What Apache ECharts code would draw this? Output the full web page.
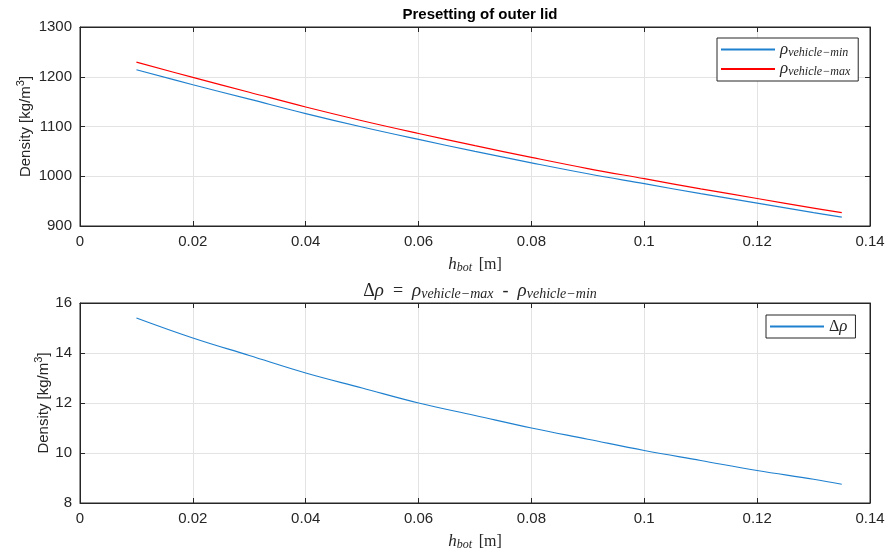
<!DOCTYPE html>
<html>
<head>
<meta charset="utf-8">
<script src="https://cdn.jsdelivr.net/npm/echarts@6/dist/echarts.min.js"></script>
<style>
  html, body { margin: 0; padding: 0; background: #fff; }
  #chart { width: 890px; height: 556px; }
</style>
</head>
<body>
<div id="chart"></div>
<script>
// values
const hBot = [0.01, 0.02, 0.03, 0.04, 0.05, 0.06, 0.07, 0.08, 0.09, 0.10, 0.11, 0.12, 0.13, 0.135]
const rhoMin = [1214, 1184, 1155, 1126, 1099, 1074, 1050, 1027, 1005, 985, 965, 946, 927, 918]
const rhoMax = [1229.4, 1198.6, 1168.9, 1139.2, 1111.6, 1086, 1061.5, 1038, 1015.5, 995.1, 974.7, 955.3, 936, 926.7]
const deltaRho = [15.4, 14.6, 13.9, 13.2, 12.6, 12.0, 11.5, 11.0, 10.55, 10.1, 9.7, 9.3, 8.95, 8.75]
const xTicks = { min: 0, max: 0.14, interval: 0.02 }
const yTopTicks = { min: 900, max: 1300, interval: 100 }
const yBotTicks = { min: 8, max: 16, interval: 2 }

const pairs = ys => hBot.map((x, i) => [x, ys[i]])

const axisColor = '#262626'
const gridColor = '#e3e3e3'
const blue = '#1f80cf'
const red = '#FF0000'
const serif = 'Liberation Serif'

const mathRich = {
    r: { fontFamily: serif, fontStyle: 'italic', fontWeight: 'normal', fontSize: 17, color: axisColor },
    u: { fontFamily: serif, fontWeight: 'normal', fontSize: 16, color: axisColor },
    s: { fontFamily: serif, fontStyle: 'italic', fontWeight: 'normal', fontSize: 12, color: axisColor, padding: [6, 0, 0, 0] },
    n: { fontFamily: 'Liberation Sans', fontSize: 15, color: axisColor },
    sup: { fontFamily: 'Liberation Sans', fontSize: 11, color: axisColor, padding: [0, 0, 10, 0] }
}
const titleRich = {
    r: { fontFamily: serif, fontStyle: 'italic', fontWeight: 'normal', fontSize: 19, color: axisColor },
    u: { fontFamily: serif, fontWeight: 'normal', fontSize: 18, color: axisColor },
    s: { fontFamily: serif, fontStyle: 'italic', fontWeight: 'normal', fontSize: 14, color: axisColor, padding: [6, 0, 0, 0] }
}

const xLabel = v => v === 0 ? '0' : String(+v.toFixed(2))

const makeX = (gridIndex) => ([
    {
        type: 'value', gridIndex, ...xTicks,
        name: '{r|h}{s|bot}  {u|[m]}',
        nameLocation: 'middle', nameGap: 30,
        nameTextStyle: { rich: mathRich },
        axisLine: { lineStyle: { color: axisColor } },
        axisTick: { inside: true, length: 5, lineStyle: { color: axisColor } },
        axisLabel: { color: axisColor, fontFamily: 'Liberation Sans', fontSize: 15, margin: 8, formatter: xLabel },
        splitLine: { show: true, lineStyle: { color: gridColor } }
    },
    {
        type: 'value', gridIndex, position: 'top', ...xTicks,
        axisLine: { show: true, onZero: false, lineStyle: { color: axisColor } },
        axisTick: { inside: true, length: 5, lineStyle: { color: axisColor } },
        axisLabel: { show: false },
        splitLine: { show: false }
    }
])

const makeY = (gridIndex, ticks, gap) => ([
    {
        type: 'value', gridIndex, ...ticks,
        name: '{n|Density [kg/m}{sup|3}{n|]}',
        nameLocation: 'middle', nameGap: gap, nameRotate: 90, nameMoveOverlap: false,
        nameTextStyle: { rich: mathRich },
        axisLine: { show: true, onZero: false, lineStyle: { color: axisColor } },
        axisTick: { show: true, inside: true, length: 5, lineStyle: { color: axisColor } },
        axisLabel: { color: axisColor, fontFamily: 'Liberation Sans', fontSize: 15, margin: 8, formatter: v => String(v) },
        splitLine: { show: true, lineStyle: { color: gridColor } }
    },
    {
        type: 'value', gridIndex, position: 'right', ...ticks,
        axisLine: { show: true, onZero: false, lineStyle: { color: axisColor } },
        axisTick: { show: true, inside: true, length: 5, lineStyle: { color: axisColor } },
        axisLabel: { show: false },
        splitLine: { show: false }
    }
])

const legendBase = {
    orient: 'vertical',
    backgroundColor: '#fff',
    borderColor: axisColor,
    borderWidth: 1,
    borderRadius: 0,
    padding: [3, 8, 3, 4],
    itemGap: 2,
    itemWidth: 54,
    itemHeight: 2,
    icon: 'rect',
    textStyle: { rich: mathRich }
}

const chart = echarts.init(document.getElementById('chart'))
chart.setOption({
    animation: false,
    backgroundColor: '#fff',
    title: [
        {
            text: 'Presetting of outer lid',
            left: 475, top: 2, textAlign: 'center',
            textStyle: { fontFamily: 'Liberation Sans', fontWeight: 'bold', fontSize: 15, color: '#000' }
        },
        {
            text: '{u|Δ}{r|ρ}{u|  =  }{r|ρ}{s|vehicle−max}{u|  -  }{r|ρ}{s|vehicle−min}',
            left: 475, top: 276, textAlign: 'center',
            textStyle: { fontWeight: 'normal', rich: titleRich }
        }
    ],
    grid: [
        { left: 80, right: 20, top: 27, height: 199, show: true, borderColor: axisColor, borderWidth: 1 },
        { left: 80, right: 20, top: 303, height: 200, show: true, borderColor: axisColor, borderWidth: 1 }
    ],
    xAxis: [...makeX(0), ...makeX(1)],
    yAxis: [...makeY(0, yTopTicks, 44), ...makeY(1, yBotTicks, 26)],
    legend: [
        {
            ...legendBase,
            left: 717, top: 38,
            data: ['min', 'max'],
            formatter: name => '{r|ρ}{s|vehicle−' + name + '}'
        },
        {
            ...legendBase,
            left: 766, top: 315,
            data: ['delta'],
            formatter: () => '{u|Δ}{r|ρ}'
        }
    ],
    series: [
        {
            name: 'min', type: 'line', xAxisIndex: 0, yAxisIndex: 0,
            data: pairs(rhoMin), smooth: 0.4, showSymbol: false,
            lineStyle: { color: blue, width: 1.2 }, itemStyle: { color: blue }
        },
        {
            name: 'max', type: 'line', xAxisIndex: 0, yAxisIndex: 0,
            data: pairs(rhoMax), smooth: 0.4, showSymbol: false,
            lineStyle: { color: red, width: 1.2 }, itemStyle: { color: red }
        },
        {
            name: 'delta', type: 'line', xAxisIndex: 2, yAxisIndex: 2,
            data: pairs(deltaRho), smooth: 0.4, showSymbol: false,
            lineStyle: { color: blue, width: 1.2 }, itemStyle: { color: blue }
        }
    ]
})
</script>
</body>
</html>
